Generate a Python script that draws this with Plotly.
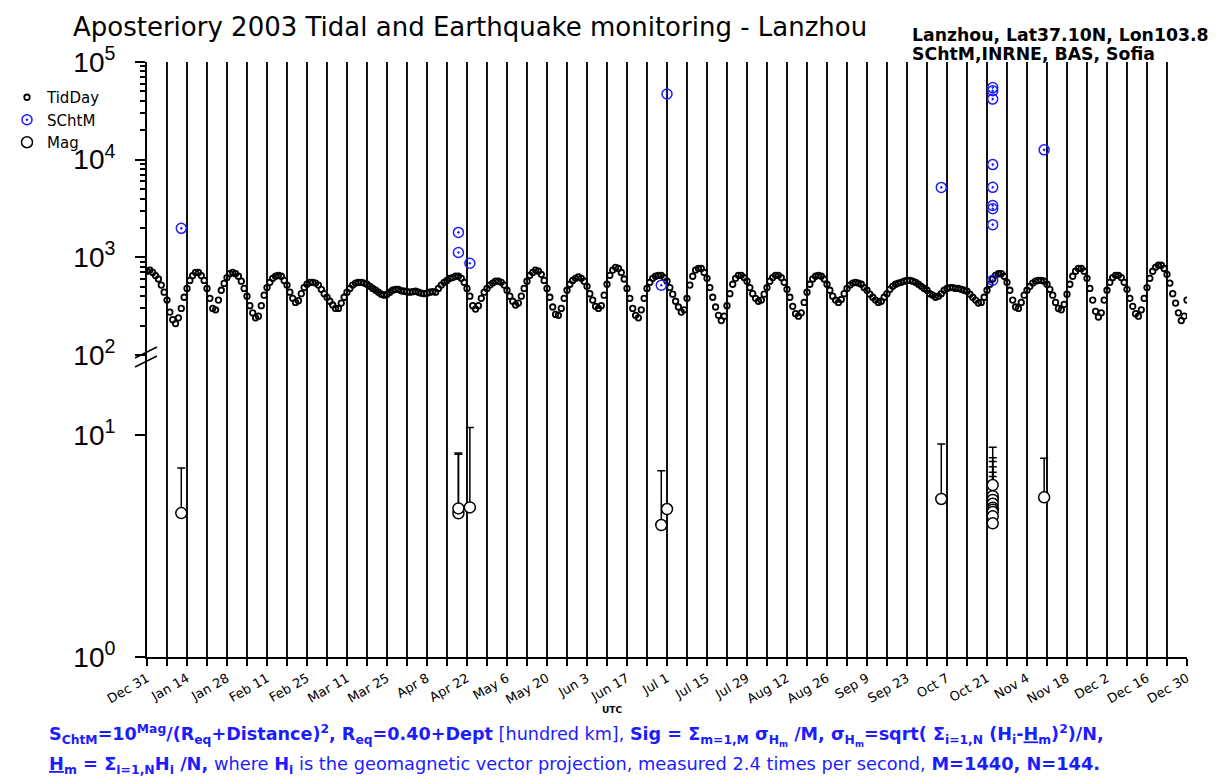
import plotly.graph_objects as go
import pandas as pd

# ---------------- data ----------------
tid_start = "2002-12-31"
tid_day = [
    720, 740, 700, 650, 600, 520, 440,
    365, 275, 230, 210, 240, 300, 390,
    480, 580, 650, 700, 700, 650, 580,
    480, 380, 300, 290, 365, 460, 540,
    620, 680, 700, 680, 640, 570, 480,
    400, 320, 270, 240, 250, 320, 410,
    490, 555, 610, 640, 655, 640, 580,
    520, 440, 380, 345, 360, 425, 490,
    530, 555, 555, 545, 520, 470, 425,
    390, 355, 325, 300, 300, 340, 390,
    440, 480, 520, 545, 555, 555, 545,
    530, 505, 480, 460, 440, 420, 410,
    420, 440, 460, 470, 470, 455, 450,
    445, 440, 445, 450, 440, 430, 425,
    430, 440, 445, 440, 480, 520, 555,
    580, 610, 620, 640, 640, 610, 555,
    480, 400, 320, 295, 320, 380, 440,
    480, 520, 545, 570, 570, 555, 520,
    460, 400, 355, 325, 340, 400, 480,
    570, 655, 700, 740, 720, 670, 580,
    480, 390, 310, 260, 255, 300, 380,
    460, 530, 580, 610, 630, 610, 570,
    505, 425, 365, 315, 300, 320, 410,
    530, 655, 740, 790, 770, 700, 600,
    480, 380, 300, 255, 240, 290, 380,
    480, 555, 610, 640, 655, 655, 620,
    570, 490, 420, 355, 310, 275, 290,
    380, 520, 640, 740, 770, 770, 700,
    610, 490, 390, 310, 255, 225, 250,
    320, 425, 530, 610, 655, 655, 620,
    570, 490, 425, 380, 355, 365, 420,
    490, 570, 620, 655, 655, 620, 555,
    470, 390, 315, 265, 250, 270, 345,
    440, 530, 600, 640, 655, 640, 600,
    530, 460, 400, 365, 345, 370, 425,
    480, 520, 545, 555, 545, 530, 490,
    460, 420, 390, 365, 345, 355, 390,
    425, 470, 505, 530, 545, 555, 570,
    580, 580, 570, 555, 530, 505, 480,
    460, 425, 410, 390, 400, 425, 460,
    480, 490, 490, 480, 480, 470, 460,
    450, 420, 390, 365, 340, 345, 390,
    460, 530, 600, 655, 680, 680, 640,
    555, 460, 365, 310, 300, 345, 410,
    460, 505, 545, 570, 580, 580, 570,
    530, 470, 410, 345, 300, 290, 330,
    420, 530, 640, 720, 770, 770, 720,
    610, 480, 365, 280, 245, 270, 365,
    460, 555, 620, 655, 655, 620, 555,
    470, 380, 315, 265, 250, 290, 380,
    490, 610, 720, 790, 830, 830, 770,
    670, 545, 425, 340, 270, 225, 250,
    365,
]
tid_dates = pd.date_range(tid_start, periods=len(tid_day), freq="D")

event_dates = ["2003-01-12", "2003-04-19", "2003-04-19", "2003-04-23",
               "2003-06-29", "2003-07-01", "2003-10-05",
               "2003-10-23", "2003-10-23", "2003-10-23", "2003-10-23", "2003-10-23",
               "2003-10-23", "2003-10-23", "2003-10-23", "2003-10-23",
               "2003-11-10"]
schtm_vals = [1980, 1800, 1120, 870, 518, 47000, 5200,
              54700, 50800, 41700, 8900, 5210, 3390, 3140, 2160, 582,
              12600]
mag_vals = [4.45, 4.44, 4.67, 4.72, 3.93, 4.64, 5.15,
            5.95, 5.3, 5.1, 4.9, 4.7, 4.6, 4.5, 4.3, 4.0,
            5.24]
sig_vals = [7.1, 8.2, 8.3, 10.8, 6.9, 4.8, 9.1,
            8.8, 7.9, 7.6, 7.2, 6.8, 6.5, 6.2, 6.0, 5.5,
            7.85]

x_labels = ["Dec 31", "Jan 14", "Jan 28", "Feb 11", "Feb 25", "Mar 11", "Mar 25",
            "Apr 8", "Apr 22", "May 6", "May 20", "Jun 3", "Jun 17", "Jul 1",
            "Jul 15", "Jul 29", "Aug 12", "Aug 26", "Sep 9", "Sep 23", "Oct 7",
            "Oct 21", "Nov 4", "Nov 18", "Dec 2", "Dec 16", "Dec 30"]
x_start, x_end = "2002-12-31", "2003-12-30"

# ---------------- layout geometry ----------------
W, H = 1216, 779
L, R, T, B = 147, 1187, 62, 657
PW, PH = R - L, B - T


def px(x):
    return (x - L) / PW


def py(y):
    return (B - y) / PH


split = py(355)
low_top = (B - 355) / 222.0

week_ticks = pd.date_range(x_start, x_end, freq="7D")
week_text = []
for i in range(len(week_ticks)):
    week_text.append(x_labels[i // 2] if i % 2 == 0 else "")

BLUE = "#1c1cff"
txtfont = "DejaVu Sans"

fig = go.Figure()
fig.add_trace(go.Scatter(
    x=tid_dates, y=tid_day, mode="markers", name="TidDay",
    xaxis="x2", yaxis="y2", legendgroup="a",
    marker=dict(symbol="circle-open", size=5.5, color="black", line=dict(width=1.8, color="black"))))
fig.add_trace(go.Scatter(
    x=event_dates, y=schtm_vals, mode="markers", name="SChtM",
    xaxis="x2", yaxis="y2", legendgroup="b",
    marker=dict(symbol="circle-open-dot", size=10, color=BLUE, line=dict(width=1.5, color=BLUE))))
fig.add_trace(go.Scatter(
    x=event_dates, y=mag_vals, mode="markers", name="Mag",
    xaxis="x", yaxis="y", legendgroup="c",
    error_y=dict(type="data", symmetric=False,
                 array=[s - m for s, m in zip(sig_vals, mag_vals)],
                 arrayminus=[0] * len(mag_vals),
                 color="black", thickness=1.5, width=4),
    marker=dict(symbol="circle", size=11, color="white", line=dict(width=1.5, color="black"))))

grid = dict(showgrid=True, gridcolor="#111111", gridwidth=2)
fig.update_layout(
    width=W, height=H,
    margin=dict(l=L, r=W - R, t=T, b=H - B, autoexpand=False),
    paper_bgcolor="white", plot_bgcolor="white",
    showlegend=True,
    legend=dict(x=px(7), y=py(81), xanchor="left", yanchor="top",
                font=dict(family=txtfont, size=15, color="black"),
                tracegroupgap=0, bgcolor="rgba(0,0,0,0)", itemwidth=30),
    title=dict(text="Aposteriory 2003 Tidal and Earthquake monitoring - Lanzhou",
               x=73 / W, xanchor="left", xref="container",
               y=1 - 27 / H, yanchor="middle", yref="container",
               font=dict(family=txtfont, size=26, color="black")),
    xaxis=dict(domain=[0, 1], anchor="y", type="date", range=[x_start, x_end],
               tickmode="array", tickvals=week_ticks, ticktext=week_text,
               tickangle=-30, ticks="outside", ticklen=7, tickwidth=2, tickcolor="black",
               showline=True, linewidth=2, linecolor="black",
               tickfont=dict(family=txtfont, size=13, color="black"), **grid),
    xaxis2=dict(domain=[0, 1], anchor="y2", type="date", matches="x",
                tickmode="array", tickvals=week_ticks, showticklabels=False,
                ticks="", showline=False, **grid),
    yaxis=dict(domain=[0, split], type="log", range=[0, low_top],
               tickmode="array", tickvals=[1, 10],
               ticktext=["10<sup>0</sup>", "10<sup>1</sup>"],
               ticks="outside", ticklen=10, tickwidth=2, tickcolor="black",
               showline=True, linewidth=2, linecolor="black", showgrid=False,
               zeroline=False, ticklabelstandoff=14,
               tickfont=dict(family="Liberation Sans", size=28, color="black")),
    yaxis2=dict(domain=[split, 1], type="log", range=[2, 5], anchor="x2",
                tickmode="array", tickvals=[100, 1000, 10000, 100000],
                ticktext=["10<sup>2</sup>", "10<sup>3</sup>", "10<sup>4</sup>", "10<sup>5</sup>"],
                ticks="outside", ticklen=10, tickwidth=2, tickcolor="black",
                minor=dict(ticks="outside", ticklen=5, tickwidth=1.5, tickcolor="black",
                           tickvals=[a * b for b in (100, 1000, 10000) for a in range(2, 10)]),
                showline=True, linewidth=2, linecolor="black", showgrid=False,
                zeroline=False, ticklabelstandoff=14,
                tickfont=dict(family="Liberation Sans", size=28, color="black")),
)

# axis break marks
for y0 in (358, 367):
    fig.add_shape(type="line", xref="paper", yref="paper",
                  x0=px(135), x1=px(157), y0=py(y0), y1=py(y0 - 11),
                  line=dict(color="black", width=1.5))

ann = []
ann.append(dict(text="<b>Lanzhou, Lat37.10N, Lon103.8</b>", x=px(910), xref="paper",
                y=py(35), yref="paper", xanchor="left", yanchor="middle", showarrow=False,
                font=dict(family=txtfont, size=17.3, color="black")))
ann.append(dict(text="<b>SChtM,INRNE, BAS, Sofia</b>", x=px(910), xref="paper",
                y=py(54), yref="paper", xanchor="left", yanchor="middle", showarrow=False,
                font=dict(family=txtfont, size=17.3, color="black")))
ann.append(dict(text="<b>UTC</b>", x=px(612), xref="paper", y=py(710), yref="paper",
                xanchor="center", yanchor="middle", showarrow=False,
                font=dict(family=txtfont, size=9, color="black")))
line1 = ("<b>S<sub>ChtM</sub>=10<sup>Mag</sup>/(R<sub>eq</sub>+Distance)<sup>2</sup>, "
         "R<sub>eq</sub>=0.40+Dept</b> [hundred km], "
         "<b>Sig = Σ<sub>m=1,M</sub> σ<sub>H<sub>m</sub></sub> /M, "
         "σ<sub>H<sub>m</sub></sub>=sqrt( Σ<sub>i=1,N</sub> (H<sub>i</sub>-<u>H</u><sub>m</sub>)<sup>2</sup>)/N,</b>")
line2 = ("<b><u>H</u><sub>m</sub> = Σ<sub>i=1,N</sub>H<sub>i</sub> /N,</b> where <b>H<sub>i</sub></b> "
         "is the geomagnetic vector projection, measured 2.4 times per second, "
         "<b>M=1440, N=144.</b>")
ann.append(dict(text=line1, x=px(47), xref="paper", y=py(735), yref="paper",
                xanchor="left", yanchor="middle", showarrow=False,
                font=dict(family=txtfont, size=17.6, color=BLUE)))
ann.append(dict(text=line2, x=px(47), xref="paper", y=py(765), yref="paper",
                xanchor="left", yanchor="middle", showarrow=False,
                font=dict(family=txtfont, size=17.8, color=BLUE)))
fig.update_layout(annotations=ann)

fig.write_html("out.html")
